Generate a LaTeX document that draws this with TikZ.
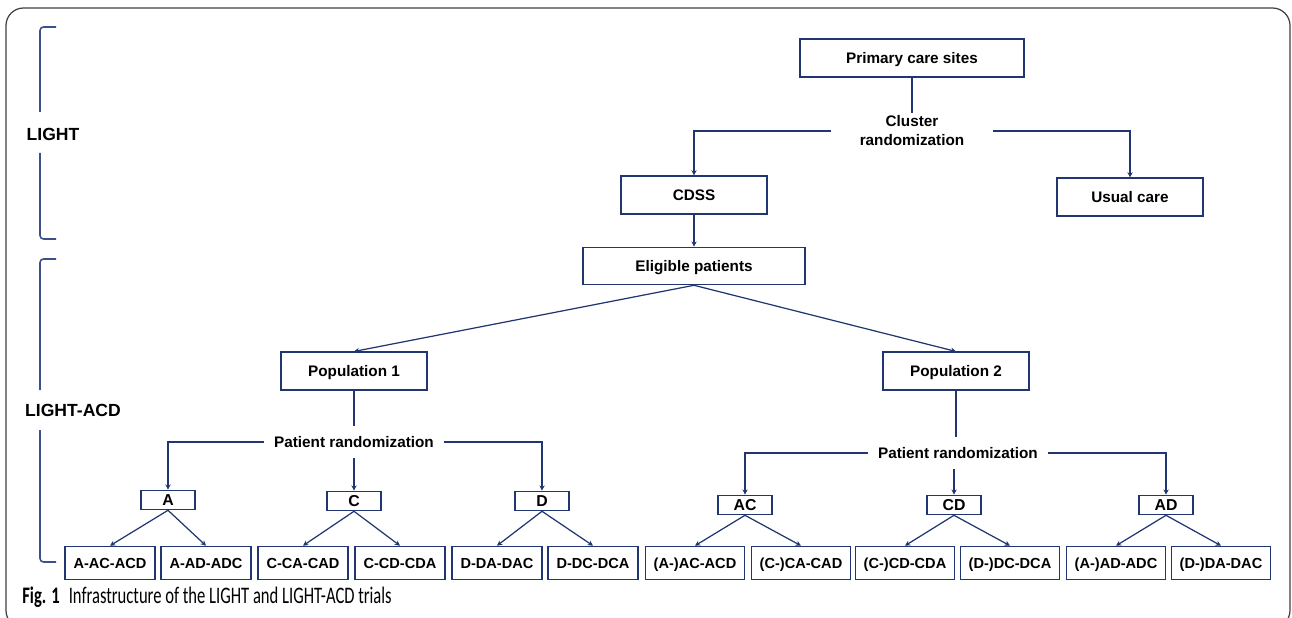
\documentclass[tikz,border=0pt]{standalone}
\usepackage{fontspec}
\setmainfont{Liberation Sans}
\newfontfamily\capfont[FakeStretch=0.7]{Carlito}
\usetikzlibrary{positioning, arrows.meta}
\definecolor{LineColor}{RGB}{33,54,112}
\definecolor{BracketColor}{RGB}{60,80,140}
\tikzset{
  box/.style={rectangle, draw=LineColor, line width=0.9pt, inner sep=0pt, text height=6.2pt, text depth=0pt, font=\fontsize{8.7}{10}\selectfont\bfseries},
  bigbox/.style={box, minimum width=2.92cm, minimum height=0.75cm},
  armbox/.style={box, minimum width=1.08cm, minimum height=0.38cm, text height=6.4pt, font=\fontsize{9}{10}\selectfont\bfseries},
  leaf/.style={box, minimum width=1.8cm, minimum height=0.66cm, text height=6pt, font=\fontsize{8.3}{10}\selectfont\bfseries},
  leafwide/.style={leaf, minimum width=1.98cm},
  rand/.style={font=\fontsize{8.7}{10.8}\selectfont\bfseries, inner xsep=0.2cm, inner ysep=0.2cm},
  link/.style={draw=LineColor, line width=0.7pt},
  arr/.style={link, -{Stealth[length=3pt,width=3pt]}},
  bracket/.style={draw=BracketColor, line width=0.9pt, rounded corners=2pt},
  trial/.style={font=\fontsize{10}{12}\selectfont\bfseries}
}

\begin{document}
\begin{tikzpicture}[x=0.02cm, y=-0.02cm]
  \clip (0,0) rectangle (1292,618);
  % outer frame
  \draw[black!75, line width=0.7pt, rounded corners=10pt] (6,8) rectangle (1290,628);

  % trial brackets
  \node[trial] (light) at (53,134) {LIGHT};
  \node[trial] (lightacd) at (73,410) {LIGHT-ACD};
  \draw[bracket] (40,112) |- (56,27);
  \draw[bracket] (40,153) |- (56,239);
  \draw[bracket] (40,390) |- (56,259);
  \draw[bracket] (40,430) |- (56,562);

  % cluster level
  \node[box, minimum width=4.48cm, minimum height=0.76cm] (sites) at (912,58) {Primary care sites};
  \node[rand, align=center, inner xsep=0.56cm, inner ysep=0.05cm] (cluster) at (912,131) {Cluster\\randomization};
  \node[bigbox] (cdss) at (694,195) {CDSS};
  \node[bigbox] (usual) at (1130,197) {Usual care};
  \node[box, minimum width=4.44cm, minimum height=0.74cm] (eligible) at (694,266) {Eligible patients};

  \draw[link] (sites) -- (cluster);
  \draw[arr] (cluster.west) -| (cdss.north);
  \draw[arr] (cluster.east) -| (usual.north);
  \draw[arr] (cdss) -- (eligible);

  % populations
  \node[bigbox] (pop1) at (354,371) {Population 1};
  \node[bigbox] (pop2) at (956,371) {Population 2};
  \draw[arr] (eligible.south) -- (pop1.north);
  \draw[arr] (eligible.south) -- (pop2.north);

  % patient randomization
  \node[rand] (prand1) at (354,442) {Patient randomization};
  \node[rand] (prand2) at (958,453) {Patient randomization};
  \draw[link] (pop1) -- (prand1);
  \draw[link] (pop2.south) -- (pop2.south |- prand2.north);

  % arms
  \node[armbox] (armA) at (168,500) {A};
  \node[armbox] (armC) at (354,501) {C};
  \node[armbox] (armD) at (542,501) {D};
  \node[armbox] (armAC) at (745,505) {AC};
  \node[armbox] (armCD) at (954,505) {CD};
  \node[armbox] (armAD) at (1166,505) {AD};
  \draw[arr] (prand1.west) -| (armA.north);
  \draw[arr] (prand1) -- (armC);
  \draw[arr] (prand1.east) -| (armD.north);
  \draw[arr] (prand2.west) -| (armAC.north);
  \draw[arr] (prand2.south -| armCD.north) -- (armCD.north);
  \draw[arr] (prand2.east) -| (armAD.north);

  % sequences
  \foreach \x/\t [count=\i] in {110/A-AC-ACD, 206/A-AD-ADC, 303/C-CA-CAD, 400/C-CD-CDA, 497/D-DA-DAC, 593/D-DC-DCA}
    \node[leaf] (leaf\i) at (\x,563) {\t};
  \foreach \x/\t [count=\i from 7] in {695/(A-)AC-ACD, 801/(C-)CA-CAD, 905/(C-)CD-CDA, 1010/(D-)DC-DCA, 1116/(A-)AD-ADC, 1221/(D-)DA-DAC}
    \node[leafwide] (leaf\i) at (\x,563) {\t};
  \foreach \a/\l/\r in {armA/1/2, armC/3/4, armD/5/6, armAC/7/8, armCD/9/10, armAD/11/12} {
    \draw[arr] (\a.south) -- (leaf\l.north);
    \draw[arr] (\a.south) -- (leaf\r.north);
  }

  % caption
  \node[anchor=base west, inner sep=0pt] (caption) at (22,603)
    {\capfont\fontsize{13.5}{15}\selectfont\textbf{Fig. 1}\hspace{0.18cm}Infrastructure of the LIGHT and LIGHT-ACD trials};
\end{tikzpicture}
\end{document}
